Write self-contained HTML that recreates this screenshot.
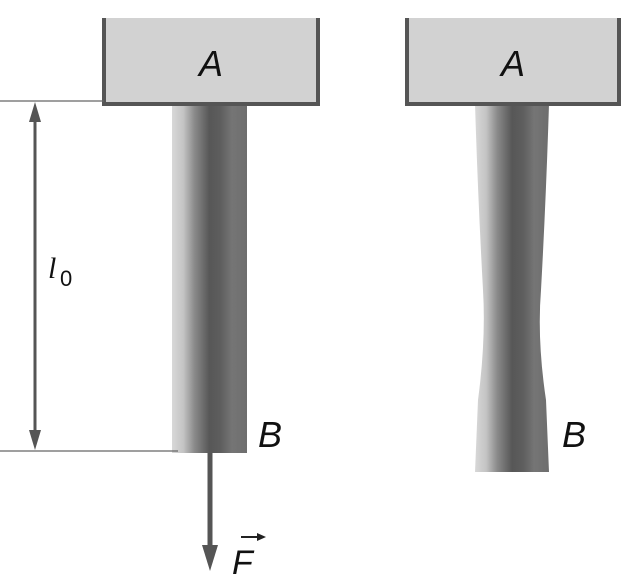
<!DOCTYPE html>
<html><head><style>body{margin:0;background:#fff}svg{display:block}</style></head><body>
<svg width="632" height="586" viewBox="0 0 632 586" xmlns="http://www.w3.org/2000/svg">
<defs>
<linearGradient id="g" x1="0" x2="1" y1="0" y2="0">
<stop offset="0" stop-color="#d8d8d8"/><stop offset="0.15" stop-color="#c4c4c4"/>
<stop offset="0.3" stop-color="#8a8a8a"/><stop offset="0.5" stop-color="#575757"/>
<stop offset="0.65" stop-color="#5e5e5e"/><stop offset="0.8" stop-color="#757575"/>
<stop offset="1" stop-color="#6e6e6e"/></linearGradient>
</defs>
<!-- left -->
<rect x="172" y="104" width="75" height="349" fill="url(#g)"/>
<rect x="102" y="18" width="218" height="88" fill="#d2d2d2"/>
<path d="M104 18 V104 H318 V18" fill="none" stroke="#555" stroke-width="4"/>
<text x="211" y="76" font-family="Liberation Sans, sans-serif" font-style="italic" font-size="36" text-anchor="middle" fill="#111">A</text>
<line x1="0" y1="101" x2="104" y2="101" stroke="#666" stroke-width="1.2"/>
<line x1="0" y1="451" x2="178" y2="451" stroke="#666" stroke-width="1.2"/>
<line x1="35" y1="115" x2="35" y2="438" stroke="#555" stroke-width="3"/>
<polygon points="35,102 29,122 41,122" fill="#555"/>
<polygon points="35,450 29,430 41,430" fill="#555"/>
<text x="48" y="278" font-family="Liberation Serif, serif" font-style="italic" font-size="30" fill="#111">l</text>
<text x="60" y="286" font-family="Liberation Sans, sans-serif" font-size="22" fill="#111">0</text>
<text x="258" y="447" font-family="Liberation Sans, sans-serif" font-style="italic" font-size="36" fill="#111">B</text>
<line x1="210" y1="453" x2="210" y2="548" stroke="#555" stroke-width="5"/>
<polygon points="210,571 202,545 218,545" fill="#555"/>
<text x="232" y="574" font-family="Liberation Sans, sans-serif" font-style="italic" font-size="34" fill="#111">F</text>
<line x1="241" y1="537" x2="262" y2="537" stroke="#222" stroke-width="2"/>
<polygon points="266,537 257,533 257,541" fill="#222"/>
<!-- right -->
<path d="M475 104 H549 Q546 200 541 290 Q537 340 546 400 L549 472 H475 L478 400 Q486 340 483 290 Q478 200 475 104 Z" fill="url(#g)"/>
<rect x="405" y="18" width="216" height="88" fill="#d2d2d2"/>
<path d="M407 18 V104 H619 V18" fill="none" stroke="#555" stroke-width="4"/>
<text x="513" y="76" font-family="Liberation Sans, sans-serif" font-style="italic" font-size="36" text-anchor="middle" fill="#111">A</text>
<text x="562" y="447" font-family="Liberation Sans, sans-serif" font-style="italic" font-size="36" fill="#111">B</text>
</svg>
</body></html>
